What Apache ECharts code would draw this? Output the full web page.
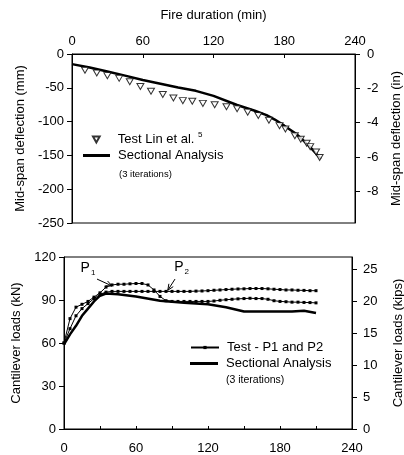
<!DOCTYPE html>
<html><head><meta charset="utf-8">
<script src="https://cdn.jsdelivr.net/npm/echarts@6/dist/echarts.min.js"></script>
<style>html,body{margin:0;padding:0;background:#fff}#c{width:404px;height:455px}</style>
</head><body><div id="c"></div>
<script>
// ---- Top chart data: fire duration (min) vs mid-span deflection (mm)
const testLinTime = [11,21,30,40,49,58,67,77,86,94,102,111,121,131,140,149,158,167,176,181,189,194,199,202,207,210];
const testLinDefl = [-24,-28,-32,-36,-41,-48,-55,-60,-65,-69,-70,-73,-75,-78,-81,-86,-91,-98,-106,-111,-121,-126,-132,-137,-145,-153];
const secDeflTime = [0,15,30,45,60,75,90,105,120,140,155,165,172,180,190,200,211];
const secDeflVal  = [-15,-20,-26,-32,-38.5,-44,-49.5,-54.5,-62,-75.5,-84,-90.5,-97,-106,-118,-134,-155];
// ---- Bottom chart data: fire duration (min) vs cantilever loads (kN)
const testTime = [0,5,10,15,20,25,30,35,40,45,50,55,60,65,70,75,80,85,90,95,100,105,110,115,120,125,130,135,140,145,150,155,160,165,170,175,180,185,190,195,200,205,210];
const testP1 = [60,77,85,87,89,92,95,99,100.5,101,101,101.3,101.5,101.5,100.5,97,92.5,89.5,89,89,89,89,89,89,89,89.3,89.8,90.2,90.5,90.8,91,91.2,91,91,90.5,89.5,89,88.8,88.5,88.5,88.3,88.2,88];
const testP2 = [60,70,79,84,87.5,91,94,95.5,96,96,96,96,96,96,96,96,96,96,96,96,96,96,96.2,96.3,96.5,96.8,97,97.3,97.5,97.7,97.8,98,98,98,97.8,97.5,97.3,97,97,96.8,96.7,96.5,96.5];
const secLoadTime = [0,5,10,15,20,25,30,35,45,60,80,100,120,135,150,170,190,200,210];
const secLoadVal  = [59,66,72,79,84,89,93,94.5,94,92.5,89.5,88,87,85,82,82,82,82.5,81];
// ---- Axis tick labels
const inchTicks = [-8,-6,-4,-2,0];
const kipsTicks = [0,5,10,15,20,25];

const FONT = "'Liberation Sans', Arial, sans-serif";
const zip = (a,b) => a.map((v,i)=>[v,b[i]]);
const chart = echarts.init(document.getElementById('c'), null, {renderer:'canvas'});
const axLine = {show:true, lineStyle:{color:'#000', width:1}};
const lbl = (extra) => Object.assign({color:'#000', fontFamily:FONT, fontSize:13}, extra||{});
const nameStyle = {color:'#000', fontFamily:FONT, fontSize:13};
const legTxt = {color:'#000', fontFamily:FONT, fontSize:13, padding:[0,0,0,3],
  rich:{s:{fontSize:8, fontFamily:FONT, color:'#000', verticalAlign:'top', padding:[0,0,9,0]}}};
const leg = (left, top, name, w, h, icon) => {
  const d = icon ? {name:name, icon:icon} : name;
  return {left:left, top:top, padding:0, orient:'vertical', itemWidth:w, itemHeight:h,
    textStyle:legTxt, formatter: n => n === 'Test Lin et al.' ? n + ' {s|5}' : n.trim(), data:[d]};
};

const option = {
  animation:false,
  backgroundColor:'#fff',
  textStyle:{fontFamily:FONT},
  grid:[
    {left:72, top:54, width:283, height:169, show:true, borderColor:'#000', borderWidth:1, backgroundColor:'transparent',
     containLabel:false, outerBoundsMode:'none'},
    {left:64, top:257, width:288, height:172, show:true, borderColor:'#000', borderWidth:1, backgroundColor:'transparent',
     containLabel:false, outerBoundsMode:'none'}
  ],
  xAxis:[
    {gridIndex:0, type:'value', position:'top', min:0, max:240, interval:60,
     name:'Fire duration (min)', nameLocation:'middle', nameGap:32, nameTextStyle:nameStyle,
     axisLine:axLine, axisTick:{show:true, inside:true, length:4, lineStyle:{color:'#000'}},
     axisLabel:lbl({margin:6}), splitLine:{show:false}},
    {gridIndex:1, type:'value', position:'bottom', min:0, max:240, interval:30,
     axisLine:axLine, axisTick:{show:true, inside:true, length:3, lineStyle:{color:'#000'}},
     axisLabel:lbl({margin:13, formatter:v => (v % 60 === 0 ? String(v) : '')}), splitLine:{show:false}}
  ],
  yAxis:[
    {gridIndex:0, type:'value', position:'left', min:-250, max:0, interval:50,
     name:'Mid-span deflection (mm)', nameLocation:'middle', nameGap:40, nameRotate:90, nameTextStyle:nameStyle,
     axisLine:axLine, axisTick:{show:true, inside:false, length:5, lineStyle:{color:'#000'}},
     axisLabel:lbl({margin:8}), splitLine:{show:false}},
    {gridIndex:0, type:'value', position:'right', min:-250/25.4, max:0,
     name:'Mid-span deflection (in)', nameLocation:'middle', nameGap:35, nameRotate:90, nameTextStyle:nameStyle,
     axisLine:axLine, axisTick:{show:true, inside:false, length:5, lineStyle:{color:'#000'}, customValues:inchTicks},
     axisLabel:lbl({margin:12, customValues:inchTicks}), splitLine:{show:false}},
    {gridIndex:1, type:'value', position:'left', min:0, max:120, interval:30,
     name:'Cantilever loads (kN)', nameLocation:'middle', nameGap:36, nameRotate:90, nameTextStyle:nameStyle,
     axisLine:axLine, axisTick:{show:true, inside:false, length:5, lineStyle:{color:'#000'}},
     axisLabel:lbl({margin:8}), splitLine:{show:false}},
    {gridIndex:1, type:'value', position:'right', min:0, max:120/4.44822,
     name:'Cantilever loads (kips)', nameLocation:'middle', nameGap:40, nameRotate:90, nameTextStyle:nameStyle,
     axisLine:axLine, axisTick:{show:true, inside:false, length:5, lineStyle:{color:'#000'}, customValues:kipsTicks},
     axisLabel:lbl({margin:11, customValues:kipsTicks}), splitLine:{show:false}}
  ],
  legend:[
    leg(92, 131, 'Test Lin et al.', 27, 6, null),
    leg(83, 149, 'Sectional Analysis', 27, 3, 'rect'),
    leg(190, 341, 'Test - P1 and P2', 28, 4, null),
    leg(190, 357, 'Sectional Analysis ', 28, 3, 'rect')
  ],
  series:[
    {name:'Test Lin et al.', type:'scatter', xAxisIndex:0, yAxisIndex:0,
     symbol:'path://M0,0 L10,0 L5,9 Z', symbolSize:[7,6],
     itemStyle:{color:'#fff', borderColor:'#000', borderWidth:1},
     data:zip(testLinTime, testLinDefl), z:3},
    {name:'Sectional Analysis', type:'line', xAxisIndex:0, yAxisIndex:0, symbol:'none',
     lineStyle:{color:'#000', width:2.5}, itemStyle:{color:'#000'},
     data:zip(secDeflTime, secDeflVal), z:2},
    {name:'Test - P1 and P2', type:'line', xAxisIndex:1, yAxisIndex:2, symbol:'rect', symbolSize:3,
     lineStyle:{color:'#000', width:1}, itemStyle:{color:'#000'},
     data:zip(testTime, testP1)},
    {name:'Test - P1 and P2', type:'line', xAxisIndex:1, yAxisIndex:2, symbol:'rect', symbolSize:3,
     lineStyle:{color:'#000', width:1}, itemStyle:{color:'#000'},
     data:zip(testTime, testP2)},
    {name:'Sectional Analysis ', type:'line', xAxisIndex:1, yAxisIndex:2, symbol:'none',
     lineStyle:{color:'#000', width:2.5}, itemStyle:{color:'#000'},
     data:zip(secLoadTime, secLoadVal)}
  ]
};
chart.setOption(option);

// annotations positioned in data coordinates
const px = (t, v, yi) => chart.convertToPixel({xAxisIndex: yi < 2 ? 0 : 1, yAxisIndex: yi}, [t, v]);
function arrow(from, to) {
  const a = px(from[0], from[1], 2), b = px(to[0], to[1], 2);
  const ang = Math.atan2(b[1]-a[1], b[0]-a[0]);
  const L = 6, W = 2.6;
  const p1 = [b[0] - L*Math.cos(ang) + W*Math.sin(ang), b[1] - L*Math.sin(ang) - W*Math.cos(ang)];
  const p2 = [b[0] - L*Math.cos(ang) - W*Math.sin(ang), b[1] - L*Math.sin(ang) + W*Math.cos(ang)];
  return [
    {type:'line', shape:{x1:a[0], y1:a[1], x2:b[0], y2:b[1]}, style:{stroke:'#000', lineWidth:1}, z:10},
    {type:'polyline', shape:{points:[p1, b, p2]}, style:{stroke:'#000', lineWidth:1, fill:null}, z:10}
  ];
}
const pLab = (t, v, sub) => {
  const p = px(t, v, 2);
  return {type:'text', x:p[0], y:p[1], z:10,
    style:{text:'P{s|' + sub + '}', fill:'#000', font:'14px ' + FONT, textAlign:'center', textVerticalAlign:'middle',
      rich:{s:{fontSize:8, fontFamily:FONT, fill:'#000', padding:[9,0,0,1]}}}};
};
const g = [
  pLab(20, 112, '1'), pLab(98, 113, '2'),
  ...arrow([27.5, 104.6], [40, 99.8]),
  ...arrow([92.5, 104.6], [86.5, 96.8]),
  {type:'text', left:119, top:169, style:{text:'(3 iterations)', fill:'#000', font:'9.5px ' + FONT}},
  {type:'text', left:226, top:375, style:{text:'(3 iterations)', fill:'#000', font:'10.5px ' + FONT}}
];
chart.setOption({graphic:g});
</script></body></html>
